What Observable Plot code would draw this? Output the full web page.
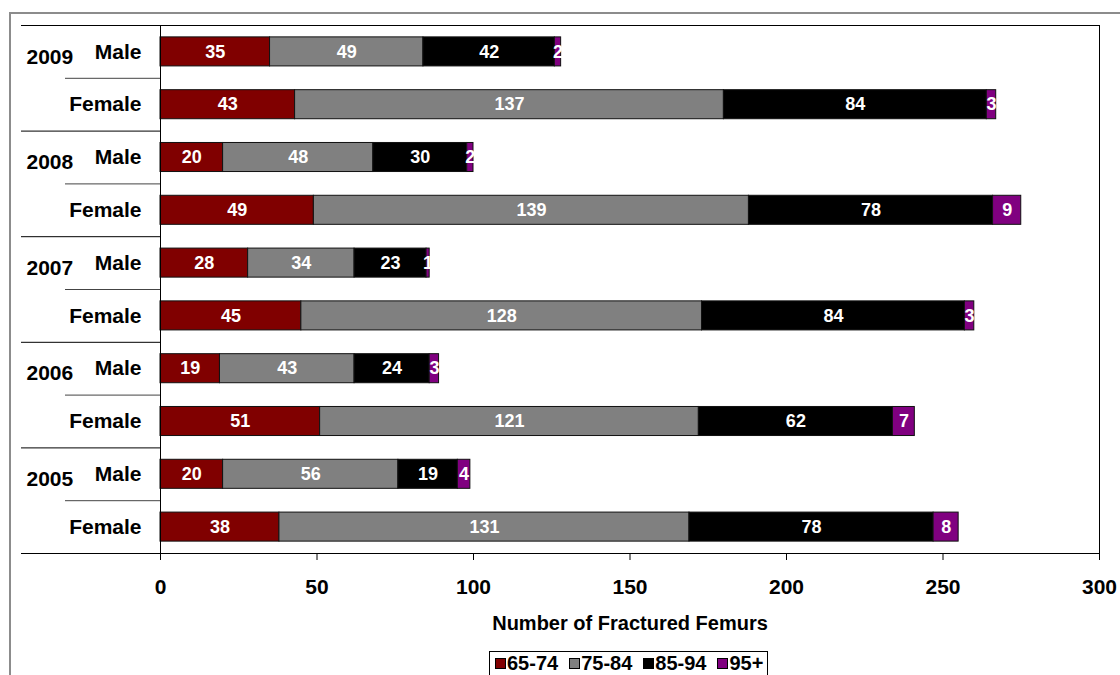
<!DOCTYPE html>
<html><head><meta charset="utf-8">
<script src="https://cdn.jsdelivr.net/npm/d3@7"></script>
<script src="https://cdn.jsdelivr.net/npm/@observablehq/plot@0.6"></script>
<style>
body{margin:0;background:#fff;font-family:"Liberation Sans",Arial,sans-serif;overflow:hidden;}
#wrap{position:relative;width:1120px;height:675px;overflow:hidden;background:#fff;}
#border{position:absolute;left:9px;top:12px;width:1200px;height:800px;border-left:2px solid #8c8c8c;border-top:2px solid #8c8c8c;z-index:3;pointer-events:none;}
#chart{position:absolute;left:0;top:0;z-index:1;}
#legend{position:absolute;left:489px;top:651px;height:40px;border:1px solid #000;background:#fff;font-weight:bold;font-size:20px;color:#000;display:flex;align-items:flex-start;padding-left:5px;padding-right:4px;box-sizing:border-box;padding-top:2px;line-height:18px;white-space:nowrap;z-index:2;}
#legend .item{display:flex;align-items:center;margin-right:11px;flex-shrink:0;}
#legend .item:last-child{margin-right:0;}
#legend .sw{width:11px;height:11px;box-sizing:border-box;border:1px solid #000;margin-right:1px;flex-shrink:0;}
</style>
</head><body>
<div id="wrap"><div id="chart"></div><div id="legend"></div><div id="border"></div></div>
<script>
const years = ["2009","2008","2007","2006","2005"];
const sexes = ["Male","Female"];
const ageGroups = ["65-74","75-84","85-94","95+"];
const ageColors = ["#800000","#808080","#000000","#800080"];
// rows top to bottom: 2009 Male, 2009 Female, 2008 Male, ...
const age6574 = [35,43,20,49,28,45,19,51,20,38];
const age7584 = [49,137,48,139,34,128,43,121,56,131];
const age8594 = [42,84,30,78,23,84,24,62,19,78];
const age95   = [2,3,2,9,1,3,3,7,4,8];
const xTicks = [0,50,100,150,200,250,300];
const xTitle = "Number of Fractured Femurs";

const rows = years.flatMap(y => sexes.map(s => ({year: y, sex: s, key: y + " " + s})));
const series = [age6574, age7584, age8594, age95];
const long = [];
rows.forEach((r, i) => series.forEach((arr, j) => long.push({key: r.key, age: ageGroups[j], value: arr[i]})));

const W = 1120, H = 640, mT = 25, mB = 87, mL = 160, mR = 21;
const step = (H - mT - mB) / rows.length;
const inset = step * 0.225;
const font = "Liberation Sans, Arial, sans-serif";

const plot = Plot.plot({
  width: W, height: H,
  marginTop: mT, marginBottom: mB, marginLeft: mL, marginRight: mR,
  style: {fontFamily: font, fontSize: "21px", fontWeight: "bold", color: "#000", background: "transparent", overflow: "visible"},
  x: {domain: [0, 300], ticks: xTicks, tickSize: 7, tickPadding: 19, label: null},
  y: {domain: rows.map(r => r.key), padding: 0, round: false, axis: null},
  color: {domain: ageGroups, range: ageColors},
  marks: [
    Plot.barX(long, {x: "value", y: "key", fill: "age", stroke: "#111", strokeWidth: 1, insetTop: inset, insetBottom: inset}),
    Plot.text(long, Plot.stackX({x: "value", y: "key", z: "age", text: d => String(d.value), fill: "white", fontSize: 18, fontWeight: "bold"})),
    Plot.frame({stroke: "#000"}),
    Plot.ruleY(rows.filter(r => r.sex === "Male"), {y: "key", x1: 0, x2: 0, insetLeft: -139, dy: -step / 2, stroke: "#000"}),
    Plot.ruleY(rows.slice(-1), {y: "key", x1: 0, x2: 0, insetLeft: -139, dy: step / 2, stroke: "#000"}),
    Plot.ruleY(rows.filter(r => r.sex === "Female"), {y: "key", x1: 0, x2: 0, insetLeft: -95, dy: -step / 2, stroke: "#444"}),
    Plot.text(rows, {y: "key", text: "sex", frameAnchor: "left", dx: -19, textAnchor: "end", fontSize: 21, fontWeight: "bold", fill: "#000"}),
    Plot.text(rows.filter(r => r.sex === "Male"), {y: "key", text: "year", frameAnchor: "left", dx: -134, dy: 5, textAnchor: "start", fontSize: 21, fontWeight: "bold", fill: "#000"}),
    Plot.text([xTitle], {frameAnchor: "bottom", text: d => d, lineAnchor: "top", dy: 62, fontSize: 20, fontWeight: "bold", fill: "#000"})
  ]
});
document.getElementById("chart").appendChild(plot);

const legend = document.getElementById("legend");
ageGroups.forEach((g, i) => {
  const it = document.createElement("div"); it.className = "item";
  const sw = document.createElement("div"); sw.className = "sw"; sw.style.background = ageColors[i];
  const t = document.createElement("span"); t.textContent = g;
  it.appendChild(sw); it.appendChild(t); legend.appendChild(it);
});
</script>
</body></html>
